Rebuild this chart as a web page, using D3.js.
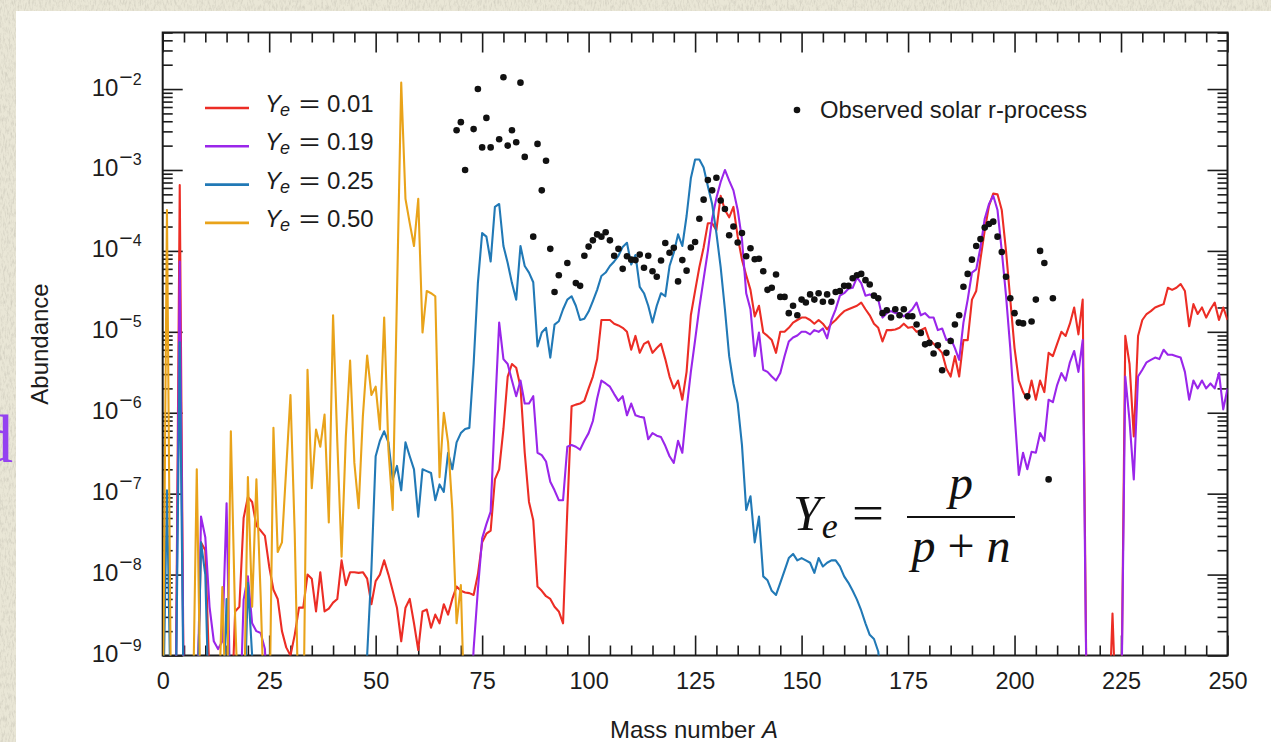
<!DOCTYPE html>
<html><head><meta charset="utf-8">
<script src="https://cdn.jsdelivr.net/npm/d3@7"></script>
<style>
html,body{margin:0;padding:0;background:#e7e4d3;overflow:hidden}
svg{display:block}
</style></head><body>
<svg id="chart" width="1271" height="742"></svg>
<script>
// ---------- data (abundance vs mass number A) ----------
const seriesNames = ["0.01", "0.19", "0.25", "0.50"];
const seriesColors = ["#ec2d25", "#9a26ea", "#2179b6", "#e9a31a"];

const ye001 = [[3,1e-10],[4,6.5e-4],[5,1e-10],[8,1e-10],[9,2.5e-8],[10,2e-8],[11,5e-10],[16,1e-10],[17,3.5e-9],[18,4e-9],[19,5e-8],[20,9.1e-8],[21,7.9e-8],[22,4e-8],[23,3.5e-8],[24,3e-8],[25,1.26e-8],[26,6.5e-9],[27,5e-9],[28,2e-9],[29,1.26e-9],[30,1e-9],[31,1.8e-9],[32,3.9e-9],[33,3.9e-9],[34,1e-8],[35,8.9e-9],[36,3.5e-9],[37,1.07e-8],[38,3.5e-9],[39,3.8e-9],[40,4.5e-9],[41,5e-9],[42,1.5e-8],[43,7.4e-9],[44,1.07e-8],[45,1.07e-8],[46,1.05e-8],[47,1.07e-8],[48,8.9e-9],[49,4.3e-9],[50,8.3e-9],[51,1e-8],[52,1.5e-8],[53,1e-8],[54,6.3e-9],[55,3.9e-9],[56,1.5e-9],[57,3.9e-9],[58,5e-9],[59,2.5e-9],[60,1.17e-9],[61,3.5e-9],[62,3.7e-9],[63,2.2e-9],[64,3.2e-9],[65,2.5e-9],[66,4.3e-9],[67,3.2e-9],[68,5e-9],[69,7.1e-9],[70,6.3e-9],[71,6e-9],[72,5.9e-9],[73,5.6e-9],[74,1e-8],[75,2.5e-8],[76,3.2e-8],[77,3.5e-8],[78,1.5e-7],[79,2e-7],[80,6.3e-7],[81,2.8e-6],[82,4e-6],[83,3.6e-6],[84,2.1e-6],[85,3.2e-7],[86,7.9e-8],[87,4.7e-8],[88,7.1e-9],[89,6.3e-9],[90,5.4e-9],[91,5e-9],[92,4e-9],[93,3.5e-9],[94,2.5e-9],[95,6.3e-8],[96,1.2e-6],[97,1.26e-6],[98,1.3e-6],[99,1.4e-6],[100,2e-6],[101,2.8e-6],[102,4.6e-6],[103,1.4e-5],[104,1.4e-5],[105,1.4e-5],[106,1.26e-5],[107,1.2e-5],[108,1.12e-5],[109,1e-5],[110,6e-6],[111,8.9e-6],[112,5.5e-6],[113,7.1e-6],[114,7.6e-6],[115,5.5e-6],[116,6.3e-6],[117,7.1e-6],[118,4.6e-6],[119,2.8e-6],[120,2e-6],[121,2.5e-6],[122,1.45e-6],[123,3.2e-6],[124,1.6e-5],[125,3.2e-5],[126,6.3e-5],[127,1.1e-4],[128,2.2e-4],[129,2.2e-4],[130,1.8e-4],[131,4.8e-4],[132,3.2e-4],[133,2.6e-4],[134,3.5e-4],[135,1.5e-4],[136,7.8e-5],[137,5e-5],[138,3.3e-5],[139,1.55e-5],[140,2.1e-5],[141,9.8e-6],[142,8.9e-6],[143,7.9e-6],[144,5.5e-6],[145,1e-5],[146,1e-5],[147,1.12e-5],[148,1.3e-5],[149,1.4e-5],[150,1.5e-5],[151,1.5e-5],[152,1.4e-5],[153,1.26e-5],[154,1.4e-5],[155,1.26e-5],[156,1.07e-5],[157,1.26e-5],[158,1.4e-5],[159,1.6e-5],[160,1.8e-5],[161,1.9e-5],[162,2e-5],[163,2.1e-5],[164,2.3e-5],[165,1.9e-5],[166,1.6e-5],[167,1.26e-5],[168,1.12e-5],[169,7.6e-6],[170,1.05e-5],[171,1.05e-5],[172,1.07e-5],[173,1.12e-5],[174,1.26e-5],[175,1.12e-5],[176,1.15e-5],[177,1e-5],[178,1.05e-5],[179,1.12e-5],[180,7.9e-6],[181,7.1e-6],[182,6.3e-6],[183,5.5e-6],[184,3.5e-6],[185,2.8e-6],[186,5e-6],[187,2.8e-6],[188,7.9e-6],[189,7.9e-6],[190,2.5e-5],[191,3.2e-5],[192,7.9e-5],[193,1.8e-4],[194,3.6e-4],[195,5.1e-4],[196,5e-4],[197,3.2e-4],[198,1e-4],[199,2.5e-5],[200,6.3e-6],[201,2.5e-6],[202,1.8e-6],[203,1.45e-6],[204,2.5e-6],[205,1.45e-6],[206,2.5e-6],[207,1.8e-6],[208,5.5e-6],[209,5e-6],[210,7.1e-6],[211,1e-5],[212,8.9e-6],[213,1.26e-5],[214,2e-5],[215,9.3e-6],[216,2.5e-5],[217,1e-10],[222,1e-10],[223,3.3e-9],[224,1e-10],[225,1e-10],[226,8.9e-6],[227,4e-6],[228,5.1e-7],[229,8.9e-6],[230,1.4e-5],[231,1.66e-5],[232,1.8e-5],[233,2e-5],[234,2.1e-5],[235,2.2e-5],[236,3.5e-5],[237,3.3e-5],[238,3.5e-5],[239,3.9e-5],[240,3.2e-5],[241,1.17e-5],[242,2.2e-5],[243,1.66e-5],[244,2e-5],[245,1.5e-5],[246,1.9e-5],[247,2.3e-5],[248,1.4e-5],[249,2e-5],[250,1.4e-5]];

const ye019 = [[3,1e-10],[4,7.4e-5],[5,1e-10],[8,1e-10],[9,5.2e-8],[10,2.9e-8],[11,4e-9],[12,1.5e-9],[13,1.2e-9],[14,1.5e-9],[15,7.6e-8],[16,1e-10],[18,1e-10],[19,4.9e-9],[20,9.5e-9],[21,2.5e-9],[22,2e-9],[23,1.9e-9],[24,1.2e-9],[25,1e-10],[72,1e-10],[73,1.2e-9],[74,6.5e-9],[75,2.8e-8],[76,4.2e-8],[77,6e-8],[78,1e-6],[79,1.3e-5],[80,4.6e-6],[81,4e-6],[82,2.5e-6],[83,1.6e-6],[84,2.5e-6],[85,1.3e-6],[86,1.3e-6],[87,1.6e-6],[88,3.2e-7],[89,3e-7],[90,2.5e-7],[91,1.4e-7],[92,1.1e-7],[93,8.3e-8],[94,8.3e-8],[95,3.8e-7],[96,4e-7],[97,3.8e-7],[98,3.5e-7],[99,4.5e-7],[100,5.6e-7],[101,7.9e-7],[102,1.5e-6],[103,2.5e-6],[104,2.3e-6],[105,2.1e-6],[106,1.7e-6],[107,1.4e-6],[108,1.6e-6],[109,9.3e-7],[110,1.3e-6],[111,9.3e-7],[112,8.9e-7],[113,8.7e-7],[114,4.7e-7],[115,5.6e-7],[116,5.2e-7],[117,5e-7],[118,3.9e-7],[119,2.9e-7],[120,2.4e-7],[121,4.5e-7],[122,3.2e-7],[123,1.1e-6],[124,3.2e-6],[125,7.9e-6],[126,2e-5],[127,4.5e-5],[128,1e-4],[129,2.5e-4],[130,4.5e-4],[131,7.1e-4],[132,1e-3],[133,7.4e-4],[134,5.6e-4],[135,3.2e-4],[136,1.4e-4],[137,3e-5],[138,1.9e-5],[139,5e-6],[140,9.8e-6],[141,3.4e-6],[142,3.2e-6],[143,2.8e-6],[144,2.5e-6],[145,3.1e-6],[146,5e-6],[147,7.6e-6],[148,8.5e-6],[149,9e-6],[150,1e-5],[151,1e-5],[152,9.3e-6],[153,1.05e-5],[154,1e-5],[155,1.1e-5],[156,8.3e-6],[157,1.4e-5],[158,1.9e-5],[159,2.8e-5],[160,3e-5],[161,3.4e-5],[162,3.5e-5],[163,4.7e-5],[164,4e-5],[165,2.8e-5],[166,2.9e-5],[167,2.8e-5],[168,2.5e-5],[169,1.5e-5],[170,1.7e-5],[171,1.8e-5],[172,1.7e-5],[173,1.7e-5],[174,1.55e-5],[175,1.7e-5],[176,1.9e-5],[177,2.3e-5],[178,1.6e-5],[179,1.7e-5],[180,1.5e-5],[181,1.5e-5],[182,1.05e-5],[183,1.1e-5],[184,7.9e-6],[185,8.3e-6],[186,6.3e-6],[187,4.5e-6],[188,1.3e-5],[189,2.5e-5],[190,5.4e-5],[191,5.9e-5],[192,1.1e-4],[193,2.5e-4],[194,3.8e-4],[195,4.8e-4],[196,3.2e-4],[197,1e-4],[198,2.8e-5],[199,6.3e-6],[200,1e-6],[201,1.7e-7],[202,3.2e-7],[203,2e-7],[204,3.3e-7],[205,3.2e-7],[206,5.6e-7],[207,4.5e-7],[208,1.45e-6],[209,1.35e-6],[210,2.2e-6],[211,3.1e-6],[212,2.5e-6],[213,4.2e-6],[214,5.8e-6],[215,3.2e-6],[216,7.9e-6],[217,1e-10],[225,1e-10],[226,2.8e-6],[227,8e-7],[228,1.5e-7],[229,2.8e-6],[230,3.4e-6],[231,4.2e-6],[232,4.5e-6],[233,4.8e-6],[234,4.6e-6],[235,6e-6],[236,5.2e-6],[237,5.2e-6],[238,5e-6],[239,4.8e-6],[240,3.2e-6],[241,1.45e-6],[242,2.5e-6],[243,2e-6],[244,2.5e-6],[245,2e-6],[246,2.3e-6],[247,2e-6],[248,3.1e-6],[249,1.1e-6],[250,2e-6]];

const ye025 = [[0,1e-10],[1,1.1e-7],[2,1e-10],[3,1e-10],[4,7.4e-6],[5,1e-10],[8,1e-10],[9,2.5e-8],[10,1e-8],[11,1e-10],[14,1e-10],[15,5e-9],[16,1e-10],[19,1e-10],[20,7.9e-9],[21,1e-9],[22,1e-10],[47,1e-10],[48,1e-9],[49,1.15e-8],[50,2.9e-7],[51,4.5e-7],[52,5.9e-7],[53,4.3e-7],[54,1.5e-7],[55,2.2e-7],[56,1.1e-7],[57,4.3e-7],[58,2.9e-7],[59,2e-7],[60,5.2e-8],[61,2e-7],[62,1.9e-7],[63,1.8e-7],[64,8.3e-8],[65,1.3e-7],[66,1.05e-7],[67,3.2e-7],[68,2e-7],[69,4.3e-7],[70,5.6e-7],[71,6.3e-7],[72,6.5e-7],[73,4e-6],[74,4e-5],[75,1.66e-4],[76,1.5e-4],[77,7.4e-5],[78,3.5e-4],[79,3.8e-4],[80,1.15e-4],[81,7.1e-5],[82,4e-5],[83,2.5e-5],[84,1.15e-4],[85,6.5e-5],[86,5.4e-5],[87,4.1e-5],[88,6.6e-6],[89,9.8e-6],[90,1.12e-5],[91,4.8e-6],[92,1.23e-5],[93,1.35e-5],[94,1.9e-5],[95,2.5e-5],[96,2.75e-5],[97,2.1e-5],[98,1.4e-5],[99,1.45e-5],[100,1.78e-5],[101,2.4e-5],[102,3.3e-5],[103,4.9e-5],[104,5.4e-5],[105,6.5e-5],[106,7.4e-5],[107,8.7e-5],[108,1.12e-4],[109,1.26e-4],[110,6.8e-5],[111,8.9e-5],[112,3.6e-5],[113,3e-5],[114,2.1e-5],[115,1.3e-5],[116,2.1e-5],[117,3e-5],[118,2.75e-5],[119,6.5e-5],[120,9.5e-5],[121,1.6e-4],[122,1.15e-4],[123,2.7e-4],[124,7.9e-4],[125,1.35e-3],[126,1.35e-3],[127,1.07e-3],[128,6.3e-4],[129,3.8e-4],[130,1.66e-4],[131,6.3e-5],[132,1.9e-5],[133,5e-6],[134,2.3e-6],[135,1.3e-6],[136,4e-7],[137,6.3e-8],[138,9.3e-8],[139,2.5e-8],[140,5.2e-8],[141,9.5e-9],[142,8.5e-9],[143,6.3e-9],[144,5.6e-9],[145,7.9e-9],[146,1.12e-8],[147,1.6e-8],[148,1.8e-8],[149,1.5e-8],[150,1.6e-8],[151,1.5e-8],[152,1.4e-8],[153,1.05e-8],[154,1.6e-8],[155,1.26e-8],[156,1.4e-8],[157,1.5e-8],[158,1.5e-8],[159,1.26e-8],[160,9.5e-9],[161,7.9e-9],[162,6.3e-9],[163,4.9e-9],[164,3.6e-9],[165,2.5e-9],[166,1.8e-9],[167,1.6e-9],[168,1.12e-9],[169,3e-10],[170,1e-10]];

const ye050 = [[0,1e-10],[1,3.2e-4],[2,1e-10],[7,1e-10],[8,2e-7],[9,1e-10],[13,1e-10],[14,7e-9],[15,1e-10],[16,5.9e-7],[17,3e-9],[18,1e-10],[19,1e-10],[20,1.6e-7],[21,4e-9],[22,1.5e-7],[23,5.4e-9],[24,1e-10],[25,1e-10],[26,6.5e-7],[27,1.9e-8],[28,2.5e-8],[30,1.66e-6],[31,3.2e-8],[32,1e-10],[33,1e-10],[34,3.4e-6],[35,1.17e-7],[36,6.2e-7],[37,3.8e-7],[38,9.5e-7],[39,4.4e-8],[40,1.6e-5],[41,4.3e-7],[42,1.66e-8],[43,5.1e-7],[44,4.4e-6],[45,2.4e-7],[46,6.6e-8],[47,9.1e-7],[48,5.1e-6],[49,1.66e-6],[50,2.1e-6],[51,6.2e-7],[52,1.5e-5],[53,3.5e-7],[54,6.3e-8],[56,1.2e-2],[57,4.4e-4],[58,2.2e-4],[59,1.15e-4],[60,4.4e-4],[61,9.8e-6],[62,3.2e-5],[63,3e-5],[64,2.75e-5],[65,1.6e-7],[66,1e-6],[67,4.3e-7],[68,6.3e-8],[69,2.5e-9],[70,7.4e-9],[71,1e-10]];

// observed solar r-process abundances
const obsA = [69,70,71,73,74,75,76,77,79,80,81,82,83,84,85,87,88,89,90,91,92,93,95,97,98,99,100,101,102,103,104,105,106,107,108,109,110,111,112,113,114,115,116,117,118,119,120,121,122,123,124,125,126,127,128,129,130,131,132,133,134,135,136,137,138,139,140,141,142,143,144,145,146,147,148,149,150,151,152,153,154,155,156,157,158,159,160,161,162,163,164,165,166,167,168,169,170,171,172,173,174,175,176,177,178,179,180,181,182,183,184,185,186,187,188,189,190,191,192,193,194,195,196,197,198,199,200,201,202,203,204,205,206,207,208,209];
const obsV = [3.1e-3,3.9e-3,1.0e-3,3.2e-3,1.0e-2,1.9e-3,4.4e-3,1.9e-3,2.4e-3,1.4e-2,2.0e-3,3.1e-3,2.2e-3,1.2e-2,1.45e-3,1.5e-4,2.1e-3,5.6e-4,1.3e-3,1.06e-4,3.1e-5,5.0e-5,7.1e-5,4.0e-5,3.7e-5,8.7e-5,1.13e-4,1.35e-4,1.6e-4,1.5e-4,1.7e-4,1.35e-4,8.7e-5,1.06e-4,6.0e-5,8.6e-5,7.8e-5,7.7e-5,9.0e-5,6.2e-5,8.7e-5,5.6e-5,4.8e-5,7.6e-5,1.25e-4,9.5e-5,1.09e-4,4.2e-5,7.7e-5,5.7e-5,1.1e-4,1.29e-4,2.5e-4,4.3e-4,7.5e-4,5.6e-4,8.0e-4,4.2e-4,3.3e-4,1.56e-4,2.0e-4,1.27e-4,1.66e-4,8.6e-5,1.08e-4,7.9e-5,8.0e-5,5.6e-5,3.3e-5,3.5e-5,5.1e-5,2.7e-5,2.7e-5,1.7e-5,2.1e-5,1.6e-5,2.5e-5,2.3e-5,2.9e-5,2.5e-5,3.0e-5,2.35e-5,2.9e-5,2.35e-5,3.1e-5,3.2e-5,3.7e-5,3.7e-5,4.6e-5,5.0e-5,5.2e-5,4.35e-5,3.85e-5,2.8e-5,2.6e-5,1.7e-5,1.85e-5,1.5e-5,1.9e-5,1.6e-5,1.9e-5,1.56e-5,1.56e-5,1.23e-5,9.7e-6,7.0e-6,7.3e-6,5.4e-6,6.8e-6,3.35e-6,5.5e-6,7.7e-6,1.23e-5,1.6e-5,3.6e-5,5.2e-5,7.8e-5,1.15e-4,1.4e-4,1.94e-4,2.15e-4,2.3e-4,1.5e-4,9.7e-5,4.8e-5,2.6e-5,1.7e-5,1.3e-5,1.27e-5,1.6e-6,1.34e-5,2.5e-5,1.0e-4,7.1e-5,1.5e-7,2.6e-5];

// axis ticks
const xMajor = [0,25,50,75,100,125,150,175,200,225,250];
const yMajor = [1e-9,1e-8,1e-7,1e-6,1e-5,1e-4,1e-3,1e-2];

// ---------- drawing ----------
const svg = d3.select("#chart");
const defs = svg.append("defs");
const flt = defs.append("filter").attr("id","paper").attr("x",0).attr("y",0).attr("width","100%").attr("height","100%");
flt.append("feTurbulence").attr("type","fractalNoise").attr("baseFrequency","0.55 0.18").attr("numOctaves",3).attr("seed",7).attr("result","n");
flt.append("feColorMatrix").attr("in","n").attr("type","matrix")
  .attr("values","0 0 0 0 0.55  0 0 0 0 0.53  0 0 0 0 0.45  2.2 0 0 0 -0.95");
svg.append("rect").attr("width",1271).attr("height",742).attr("fill","#e9e6d6");
svg.append("rect").attr("width",1271).attr("height",742).attr("filter","url(#paper)").attr("opacity",0.6);

// purple slide letter at the left edge
svg.append("text").attr("x",13).attr("y",462).attr("text-anchor","end")
  .attr("font-family","'Liberation Serif', 'DejaVu Serif', serif").attr("font-size",68)
  .attr("fill","#9442f0").text("d");

// white figure panel
svg.append("rect").attr("x",16).attr("y",11).attr("width",1271).attr("height",742).attr("fill","#ffffff");

const X0 = 162.7, X1 = 1227.5, Y0 = 655.5, Y1 = 32.5;
const x = d3.scaleLinear().domain([0,250]).range([X0,X1]);
const y = d3.scaleLog().domain([1e-9,0.05]).range([Y0,Y1]);

const font = "'Liberation Sans', Arial, Helvetica, sans-serif";
const ink = "#1c1c1c";

defs.append("clipPath").attr("id","plotclip").append("rect")
  .attr("x",X0).attr("y",Y1).attr("width",X1-X0).attr("height",Y0-Y1);

const xMinor = d3.range(0,251,5).filter(v => v % 25 !== 0);
const yMinor = [];
for (let d = -9; d <= -2; d++) for (let m = 2; m <= 9; m++) { const v = m*Math.pow(10,d); if (v <= 0.05) yMinor.push(v); }

function styleAxis(g){
  g.select(".domain").remove();
  g.selectAll(".tick line").attr("stroke",ink).attr("stroke-width",1.6);
  g.attr("font-family",font).attr("font-size",23.5).attr("fill",ink);
  g.selectAll(".tick text").attr("fill",ink);
}

// bottom
svg.append("g").attr("transform",`translate(0,${Y0})`)
  .call(d3.axisBottom(x).tickValues(xMajor).tickSize(-20).tickPadding(17).tickFormat(d3.format("d"))).call(styleAxis);
svg.append("g").attr("transform",`translate(0,${Y0})`)
  .call(d3.axisBottom(x).tickValues(xMinor).tickSize(-10).tickFormat("")).call(styleAxis);
// top
svg.append("g").attr("transform",`translate(0,${Y1})`)
  .call(d3.axisTop(x).tickValues(xMajor).tickSize(-20).tickFormat("")).call(styleAxis);
svg.append("g").attr("transform",`translate(0,${Y1})`)
  .call(d3.axisTop(x).tickValues(xMinor).tickSize(-10).tickFormat("")).call(styleAxis);
// left
const leftAx = svg.append("g").attr("transform",`translate(${X0},0)`)
  .call(d3.axisLeft(y).tickValues(yMajor).tickSize(-20).tickPadding(21).tickFormat(d => String(Math.round(Math.log10(d))))).call(styleAxis);
leftAx.selectAll(".tick text").each(function(d){
  const e = Math.abs(Math.round(Math.log10(d)));
  const t = d3.select(this).text(null).attr("dy",null).attr("y",6);
  t.append("tspan").attr("font-size",24).text("10");
  t.append("tspan").attr("font-size",23).attr("dy",-11).attr("dx",1).text("\u2212");
  t.append("tspan").attr("font-size",16).text(e);
});
svg.append("g").attr("transform",`translate(${X0},0)`)
  .call(d3.axisLeft(y).tickValues(yMinor).tickSize(-10).tickFormat("")).call(styleAxis);
// right
svg.append("g").attr("transform",`translate(${X1},0)`)
  .call(d3.axisRight(y).tickValues(yMajor).tickSize(-20).tickFormat("")).call(styleAxis);
svg.append("g").attr("transform",`translate(${X1},0)`)
  .call(d3.axisRight(y).tickValues(yMinor).tickSize(-10).tickFormat("")).call(styleAxis);

// frame
svg.append("rect").attr("x",X0).attr("y",Y1).attr("width",X1-X0).attr("height",Y0-Y1)
  .attr("fill","none").attr("stroke",ink).attr("stroke-width",2);

// lines
const line = d3.line().x(d => x(d[0])).y(d => y(d[1]));
const plot = svg.append("g").attr("clip-path","url(#plotclip)");
[ye001, ye019, ye025, ye050].forEach((s,i) => {
  plot.append("path").datum(s).attr("d",line).attr("fill","none")
    .attr("stroke",seriesColors[i]).attr("stroke-width",2.1).attr("stroke-linejoin","round");
});
// observed points
plot.append("g").selectAll("circle").data(obsA.map((a,i) => [a,obsV[i]])).join("circle")
  .attr("cx",d => x(d[0])).attr("cy",d => y(d[1])).attr("r",3.3).attr("fill","#111");

// legend
const leg = svg.append("g").attr("font-family",font).attr("fill",ink);
seriesNames.forEach((n,i) => {
  const ly = 108 + i*38.3;
  leg.append("line").attr("x1",205).attr("x2",249).attr("y1",ly).attr("y2",ly)
    .attr("stroke",seriesColors[i]).attr("stroke-width",2.6);
  const t = leg.append("text").attr("x",265).attr("y",ly+4).attr("font-size",24);
  t.append("tspan").attr("font-style","italic").text("Y");
  t.append("tspan").attr("font-style","italic").attr("font-size",18).attr("dy",4).attr("dx",-1).text("e");
  t.append("tspan").attr("x",299).attr("dy",-4).attr("textLength",21).attr("lengthAdjust","spacingAndGlyphs").text("=");
  t.append("tspan").attr("x",327).text(n);
});
leg.append("circle").attr("cx",797).attr("cy",110).attr("r",3.3).attr("fill","#111");
leg.append("text").attr("x",820).attr("y",118).attr("font-size",23.8).text("Observed solar r-process");

// axis titles
svg.append("text").attr("x",694).attr("y",738).attr("text-anchor","middle")
  .attr("font-family",font).attr("font-size",24).attr("fill",ink)
  .call(t => { t.append("tspan").text("Mass number "); t.append("tspan").attr("font-style","italic").text("A"); });
svg.append("text").attr("transform","translate(48,344) rotate(-90)").attr("text-anchor","middle")
  .attr("font-family",font).attr("font-size",24).attr("fill",ink).text("Abundance");

// formula Ye = p/(p+n)
const ff = "'Liberation Serif', 'DejaVu Serif', serif";
const fm = svg.append("g").attr("font-family",ff).attr("fill","#111");
const ft = fm.append("text").attr("x",793).attr("y",530).attr("font-size",50);
ft.append("tspan").attr("font-style","italic").text("Y");
ft.append("tspan").attr("font-style","italic").attr("font-size",36).attr("dy",8).attr("dx",1).text("e");
ft.append("tspan").attr("x",852).attr("dy",-8).attr("textLength",32).attr("lengthAdjust","spacingAndGlyphs").text("=");
fm.append("line").attr("x1",907).attr("x2",1015).attr("y1",517).attr("y2",517).attr("stroke","#111").attr("stroke-width",2);
fm.append("text").attr("x",961).attr("y",499).attr("text-anchor","middle").attr("font-size",48).attr("font-style","italic").text("p");
const den = fm.append("text").attr("x",961).attr("y",562).attr("text-anchor","middle").attr("font-size",48);
den.append("tspan").attr("font-style","italic").text("p");
den.append("tspan").text(" + ");
den.append("tspan").attr("font-style","italic").text("n");
</script>
</body></html>
